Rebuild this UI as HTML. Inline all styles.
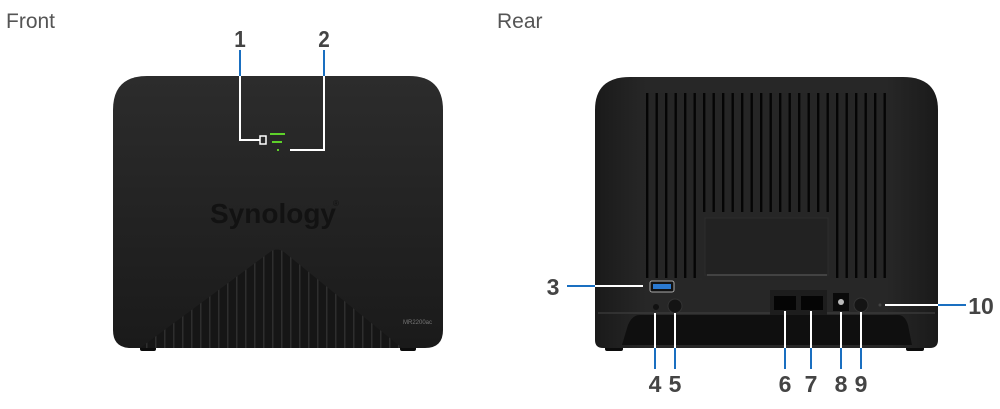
<!DOCTYPE html>
<html><head><meta charset="utf-8"><style>
html,body{margin:0;padding:0;background:#fff;}
svg{display:block;}
</style></head><body>
<svg width="1000" height="409" viewBox="0 0 1000 409" xmlns="http://www.w3.org/2000/svg">
<defs>
<linearGradient id="fg" x1="0" y1="0" x2="0" y2="1">
<stop offset="0" stop-color="#2c2c2c"/><stop offset="0.5" stop-color="#232323"/><stop offset="1" stop-color="#1a1a1a"/>
</linearGradient>
<linearGradient id="rg" x1="0" y1="0" x2="1" y2="0">
<stop offset="0" stop-color="#1a1a1a"/><stop offset="0.15" stop-color="#272727"/><stop offset="0.85" stop-color="#272727"/><stop offset="1" stop-color="#1a1a1a"/>
</linearGradient>
<pattern id="ridge" x="173" y="0" width="9" height="10" patternUnits="userSpaceOnUse">
<rect width="9" height="10" fill="#161616"/><rect x="0" width="1.5" height="10" fill="#2e2e2e"/>
</pattern>
<pattern id="slot" x="646" y="0" width="9.5" height="10" patternUnits="userSpaceOnUse">
<rect width="9.5" height="10" fill="#262626"/><rect x="0" width="2.4" height="10" fill="#050505"/>
</pattern>
</defs>

<text x="6" y="28" font-family="Liberation Sans, sans-serif" font-size="21" fill="#555">Front</text>
<text x="497" y="28" font-family="Liberation Sans, sans-serif" font-size="21" fill="#555">Rear</text>

<!-- FRONT -->
<rect x="140" y="344" width="16" height="7" rx="2" fill="#0c0c0c"/>
<rect x="400" y="344" width="16" height="7" rx="2" fill="#0c0c0c"/>
<path d="M113 110 Q113 76 147 76 L409 76 Q443 76 443 110 L443 330 Q443 348 425 348 L131 348 Q113 348 113 330 Z" fill="url(#fg)"/>
<path d="M140 348 L270 252 Q277 247 284 252 L402 348 Z" fill="url(#ridge)"/>
<text x="273" y="223" text-anchor="middle" font-family="Liberation Sans, sans-serif" font-weight="bold" font-size="28" fill="#121212">Synology</text>
<text x="333" y="206" font-family="Liberation Sans, sans-serif" font-size="8" fill="#121212">®</text>
<text x="403" y="324" font-family="Liberation Sans, sans-serif" font-size="6" fill="#777">MR2200ac</text>
<!-- LEDs -->
<rect x="270" y="133" width="15" height="2" fill="#5ed12a"/>
<rect x="272" y="141" width="10" height="2" fill="#5ed12a"/>
<rect x="277" y="149" width="2" height="2" fill="#5ed12a"/>
<rect x="260" y="136" width="6" height="8" fill="none" stroke="#fff" stroke-width="1.5"/>
<!-- callouts front -->
<g font-family="Liberation Sans, sans-serif" font-weight="bold" font-size="23" fill="#444" text-anchor="middle">
<text x="240" y="47" transform="translate(240 0) scale(0.9 1) translate(-240 0)">1</text>
<text x="324" y="47" transform="translate(324 0) scale(0.9 1) translate(-324 0)">2</text>
</g>
<line x1="240" y1="50" x2="240" y2="76" stroke="#1a6fc0" stroke-width="2"/>
<polyline points="240,76 240,140 260,140" fill="none" stroke="#fff" stroke-width="2"/>
<line x1="324" y1="50" x2="324" y2="76" stroke="#1a6fc0" stroke-width="2"/>
<polyline points="324,76 324,150 290,150" fill="none" stroke="#fff" stroke-width="2"/>

<!-- REAR -->
<rect x="605" y="343" width="18" height="8" rx="2" fill="#0c0c0c"/>
<rect x="906" y="343" width="18" height="8" rx="2" fill="#0c0c0c"/>
<path d="M595 110 Q595 77 630 77 L903 77 Q938 77 938 110 L938 340 Q938 348 930 348 L603 348 Q595 348 595 340 Z" fill="url(#rg)"/>
<rect x="645" y="93" width="245" height="185" fill="url(#slot)"/>
<rect x="702" y="212" width="128" height="68" fill="#262626"/>
<rect x="705" y="218" width="123" height="57" fill="#222" stroke="#2c2c2c" stroke-width="1"/>
<line x1="707" y1="275" x2="827" y2="275" stroke="#555" stroke-width="1.2"/>
<!-- lower base -->
<path d="M640 315 L898 315 Q905 315 908 325 L912 345 L622 345 L628 325 Q632 315 640 315 Z" fill="#0f0f0f"/>
<line x1="598" y1="313" x2="935" y2="313" stroke="#3d3d3d" stroke-width="1.2"/>
<!-- ports -->
<rect x="650" y="281" width="24" height="11" rx="2" fill="#111" stroke="#aaa" stroke-width="1"/>
<rect x="653" y="284" width="18" height="5" fill="#2a79d0"/>
<circle cx="656" cy="307" r="3" fill="#111"/>
<circle cx="675" cy="306" r="7" fill="#141414" stroke="#333"/>
<rect x="770" y="290" width="57" height="25" fill="#1d1d1d"/>
<rect x="774" y="296" width="22" height="14" fill="#050505"/>
<rect x="801" y="296" width="22" height="14" fill="#050505"/>
<rect x="833" y="293" width="16" height="18" fill="#0a0a0a"/>
<circle cx="841" cy="302" r="3" fill="#bbb"/>
<circle cx="861" cy="305" r="7" fill="#141414" stroke="#333"/>
<circle cx="880" cy="305" r="1.5" fill="#444"/>
<!-- callouts rear -->
<g font-family="Liberation Sans, sans-serif" font-weight="bold" font-size="23" fill="#444" text-anchor="middle">
<text x="553" y="295">3</text>
<text x="981" y="314">10</text>
<text x="655" y="392">4</text>
<text x="675" y="392">5</text>
<text x="785" y="392">6</text>
<text x="811" y="392">7</text>
<text x="841" y="392">8</text>
<text x="861" y="392">9</text>
</g>
<line x1="567" y1="286" x2="595" y2="286" stroke="#1a6fc0" stroke-width="2"/>
<line x1="595" y1="286" x2="643" y2="286" stroke="#fff" stroke-width="2"/>
<line x1="885" y1="305" x2="938" y2="305" stroke="#fff" stroke-width="2"/>
<line x1="938" y1="305" x2="966" y2="305" stroke="#1a6fc0" stroke-width="2"/>
<g stroke-width="2">
<line x1="655" y1="313" x2="655" y2="348" stroke="#fff"/><line x1="655" y1="348" x2="655" y2="369" stroke="#1a6fc0"/>
<line x1="675" y1="313" x2="675" y2="348" stroke="#fff"/><line x1="675" y1="348" x2="675" y2="369" stroke="#1a6fc0"/>
<line x1="785" y1="311" x2="785" y2="348" stroke="#fff"/><line x1="785" y1="348" x2="785" y2="369" stroke="#1a6fc0"/>
<line x1="811" y1="311" x2="811" y2="348" stroke="#fff"/><line x1="811" y1="348" x2="811" y2="369" stroke="#1a6fc0"/>
<line x1="841" y1="312" x2="841" y2="348" stroke="#fff"/><line x1="841" y1="348" x2="841" y2="369" stroke="#1a6fc0"/>
<line x1="861" y1="312" x2="861" y2="348" stroke="#fff"/><line x1="861" y1="348" x2="861" y2="369" stroke="#1a6fc0"/>
</g>
</svg>
</body></html>
